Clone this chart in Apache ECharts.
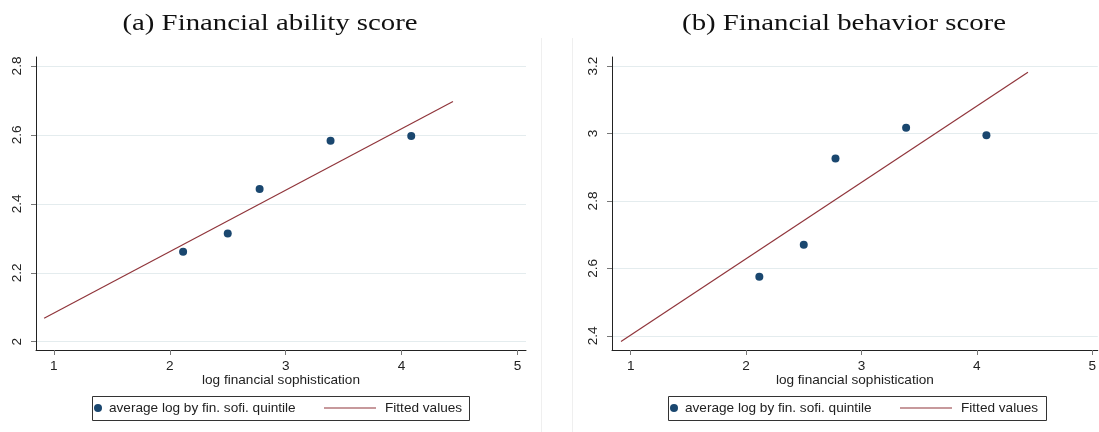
<!DOCTYPE html>
<html>
<head>
<meta charset="utf-8">
<script src="https://cdn.jsdelivr.net/npm/echarts@6/dist/echarts.min.js"></script>
<style>
html,body{margin:0;padding:0;background:#fff;}
#c{width:1099px;height:432px;}
</style>
</head>
<body>
<div id="c"></div>
<script>
// ---- data ----
const panelTitles = ['(a) Financial ability score', '(b) Financial behavior score'];
const xAxisTitle = 'log financial sophistication';
const scatterName = 'average log by fin. sofi. quintile';
const fitName = 'Fitted values';
const xQuintile = [2.115, 2.500, 2.775, 3.387, 4.083];
const abilityAvg = [2.261, 2.314, 2.443, 2.583, 2.597];
const behaviorAvg = [2.575, 2.670, 2.926, 3.017, 2.995];
const fitX = [0.916, 4.443];
const abilityFit = [2.068, 2.697];
const behaviorFit = [2.383, 3.182];
const xTicks = [1, 2, 3, 4, 5];
const abilityTicks = [2, 2.2, 2.4, 2.6, 2.8];
const behaviorTicks = [2.4, 2.6, 2.8, 3, 3.2];

const NAVY = '#1a476f';
const MAROON = '#90353b';
const GRID = '#e4ecee';
const AXIS = '#222222';
const SANS = 'Liberation Sans, Arial, sans-serif';
const SERIF = 'Liberation Serif, DejaVu Serif, serif';
const FS = 13.6;

function pairs(xs, ys) { return xs.map((x, i) => [x, ys[i]]); }

function xAxisCfg(idx, min, max) {
  return {
    type: 'value', gridIndex: idx, min: min, max: max,
    name: xAxisTitle, nameLocation: 'middle', nameGap: 23, nameMoveOverlap: false,
    nameTextStyle: { fontFamily: SANS, fontSize: FS, color: '#222' },
    axisLine: { show: true, onZero: false, lineStyle: { color: AXIS, width: 1 } },
    axisTick: { show: true, length: 5, customValues: xTicks, lineStyle: { color: '#777' } },
    axisLabel: { customValues: xTicks, fontFamily: SANS, fontSize: FS, color: '#222', margin: 9 },
    splitLine: { show: false }
  };
}
function yAxisCfg(idx, min, max, ticks) {
  return {
    type: 'value', gridIndex: idx, min: min, max: max,
    axisLine: { show: true, onZero: false, lineStyle: { color: AXIS, width: 1 } },
    axisTick: { show: true, length: 5, customValues: ticks, lineStyle: { color: '#777' } },
    axisLabel: { customValues: ticks, rotate: 90, fontFamily: SANS, fontSize: FS, color: '#222', margin: 12 },
    splitLine: { show: true, lineStyle: { color: GRID, width: 1 } }
  };
}
function scatterLegend(left) {
  return { data: [scatterName], left: left, top: 401, itemWidth: 12, itemHeight: 8, padding: 0, itemGap: 0,
    textStyle: { fontFamily: SANS, fontSize: FS, color: '#222' } };
}
function fitLegend(left) {
  return { data: [{ name: fitName, icon: 'rect' }], left: left, top: 401, itemWidth: 52, itemHeight: 1.2, padding: 0, itemGap: 0,
    textStyle: { fontFamily: SANS, fontSize: FS, color: '#222', padding: [0, 0, 0, 4] } };
}

const chart = echarts.init(document.getElementById('c'), null, { renderer: 'canvas' });
const option = {
  backgroundColor: '#fff',
  animation: false,
  grid: [
    { left: 36, top: 57, width: 490, height: 293 },
    { left: 612, top: 57, width: 487, height: 293 }
  ],
  xAxis: [xAxisCfg(0, 0.846, 5.073), xAxisCfg(1, 0.838, 5.048)],
  yAxis: [yAxisCfg(0, 1.976, 2.826, abilityTicks), yAxisCfg(1, 2.358, 3.227, behaviorTicks)],
  legend: [scatterLegend(94), fitLegend(324), scatterLegend(670), fitLegend(900)],
  graphic: [
    { type: 'text', x: 270, y: 24, scaleX: 1.2, style: { text: panelTitles[0], font: '24px ' + SERIF, fill: '#111', textAlign: 'center', textVerticalAlign: 'middle' } },
    { type: 'text', x: 844, y: 24, scaleX: 1.2, style: { text: panelTitles[1], font: '24px ' + SERIF, fill: '#111', textAlign: 'center', textVerticalAlign: 'middle' } },
    { type: 'rect', shape: { x: 92.5, y: 396.5, width: 377, height: 24 }, style: { fill: 'none', stroke: '#333', lineWidth: 1 } },
    { type: 'rect', shape: { x: 668.5, y: 396.5, width: 378, height: 24 }, style: { fill: 'none', stroke: '#333', lineWidth: 1 } },
    { type: 'line', shape: { x1: 541.5, y1: 38, x2: 541.5, y2: 432 }, style: { stroke: '#efefef', lineWidth: 1 } },
    { type: 'line', shape: { x1: 572.5, y1: 38, x2: 572.5, y2: 432 }, style: { stroke: '#efefef', lineWidth: 1 } }
  ],
  series: [
    { name: scatterName, type: 'scatter', xAxisIndex: 0, yAxisIndex: 0, data: pairs(xQuintile, abilityAvg),
      symbol: 'circle', symbolSize: 8, itemStyle: { color: NAVY, opacity: 1 }, z: 3 },
    { name: fitName, type: 'line', xAxisIndex: 0, yAxisIndex: 0, data: pairs(fitX, abilityFit),
      showSymbol: false, symbol: 'none', lineStyle: { color: MAROON, width: 1.2 }, itemStyle: { color: MAROON } },
    { name: scatterName, type: 'scatter', xAxisIndex: 1, yAxisIndex: 1, data: pairs(xQuintile, behaviorAvg),
      symbol: 'circle', symbolSize: 8, itemStyle: { color: NAVY, opacity: 1 }, z: 3 },
    { name: fitName, type: 'line', xAxisIndex: 1, yAxisIndex: 1, data: pairs(fitX, behaviorFit),
      showSymbol: false, symbol: 'none', lineStyle: { color: MAROON, width: 1.2 }, itemStyle: { color: MAROON } }
  ]
};
chart.setOption(option);
</script>
</body>
</html>
